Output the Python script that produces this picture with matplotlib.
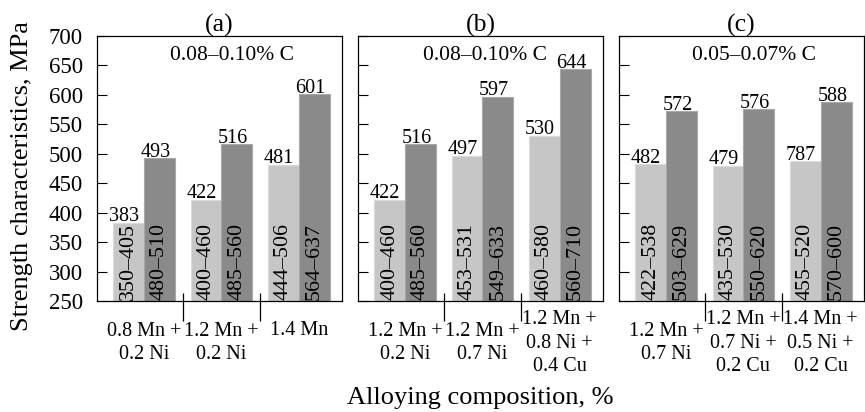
import matplotlib.pyplot as plt
import numpy as np

plt.rcParams['font.family'] = ['Liberation Serif', 'DejaVu Serif']
plt.rcParams['font.size'] = 14

titles = ["(a)", "(b)", "(c)"]
carbon = ["0.08\u20130.10% C", "0.08\u20130.10% C", "0.05\u20130.07% C"]
compositions = [
    ["0.8 Mn +\n0.2 Ni", "1.2 Mn +\n0.2 Ni", "1.4 Mn"],
    ["1.2 Mn +\n0.2 Ni", "1.2 Mn +\n0.7 Ni", "1.2 Mn +\n0.8 Ni +\n0.4 Cu"],
    ["1.2 Mn +\n0.7 Ni", "1.2 Mn +\n0.7 Ni +\n0.2 Cu", "1.4 Mn +\n0.5 Ni +\n0.2 Cu"],
]
# yield strength (light) and tensile strength (dark), mean values
yield_mean = [[383, 422, 481], [422, 497, 530], [482, 479, 487]]
tensile_mean = [[493, 516, 601], [516, 597, 644], [572, 576, 588]]
# printed labels (the last one is printed as 787 in the source)
yield_text = [["383", "422", "481"], ["422", "497", "530"], ["482", "479", "787"]]
tensile_text = [["493", "516", "601"], ["516", "597", "644"], ["572", "576", "588"]]
yield_range = [["350\u2013405", "400\u2013460", "444\u2013506"],
               ["400\u2013460", "453\u2013531", "460\u2013580"],
               ["422\u2013538", "435\u2013530", "455\u2013520"]]
tensile_range = [["480\u2013510", "485\u2013560", "564\u2013637"],
                 ["485\u2013560", "549\u2013633", "560\u2013710"],
                 ["503\u2013629", "550\u2013620", "570\u2013600"]]
yticks = np.arange(250, 701, 50)

W, H = 865, 412
fig = plt.figure(figsize=(W / 100, H / 100), dpi=100)

lefts = [97, 358, 619]
carbon_x = [0.55, 0.52, 0.55]
w = 0.4
light = '#c6c6c6'
dark = '#8a8a8a'

for i in range(3):
    ax = fig.add_axes([lefts[i] / W, (H - 301) / H, 245 / W, 265 / H])
    x = np.arange(3)
    ax.bar(x - w / 2, yield_mean[i], w, color=light,
           edgecolor='#dadada', linewidth=0.8)
    ax.bar(x + w / 2, tensile_mean[i], w, color=dark,
           edgecolor='#a8a8a8', linewidth=0.8)
    for j in range(3):
        ax.text(x[j] - w / 2 - 0.06, yield_mean[i][j] + 3, yield_text[i][j],
                ha='center', va='baseline', fontsize=14.5)
        ax.text(x[j] + w / 2 - 0.05, tensile_mean[i][j] + 2, tensile_text[i][j],
                ha='center', va='baseline', fontsize=14.5)
        ax.text(x[j] - w / 2, 251, yield_range[i][j], rotation=90,
                ha='center', va='bottom', fontsize=15.8)
        ax.text(x[j] + w / 2, 251, tensile_range[i][j], rotation=90,
                ha='center', va='bottom', fontsize=15.8)
        # category label under the group; a single line sits on the first row
        label = compositions[i][j]
        ly = -0.1585 if '\n' in label else -0.11
        ax.text(x[j], ly, label, transform=ax.get_xaxis_transform(),
                ha='center', va='center', linespacing=1.35, fontsize=14.5)
    ax.set_xlim(-0.61, 2.56)
    ax.set_ylim(250, 700)
    ax.set_yticks(yticks)
    ax.tick_params(axis='y', direction='in', length=7, width=0.8, pad=10,
                   labelsize=16.5)
    if i > 0:
        ax.set_yticklabels([])
    ax.set_xticks(x)
    ax.set_xticklabels([])
    ax.tick_params(axis='x', length=0)
    ax.vlines([0.5, 1.5], -0.075, 0.03, color='black', linewidth=0.9,
              transform=ax.get_xaxis_transform(), clip_on=False)
    ax.text(0.5, 1.038, titles[i], transform=ax.transAxes, ha='center',
            va='center', fontsize=18.5)
    ax.text(carbon_x[i], 0.925, carbon[i], transform=ax.transAxes,
            ha='center', va='center', fontsize=15.5)
    for s in ax.spines.values():
        s.set_linewidth(0.9)

fig.text(22 / W, 1 - 176 / H, "Strength characteristics, MPa", rotation=90,
         ha='center', va='center', fontsize=19)
fig.text(480 / W, 1 - 398 / H, "Alloying composition, %", ha='center',
         va='center', fontsize=19)

fig.savefig('out.png', dpi=100)
